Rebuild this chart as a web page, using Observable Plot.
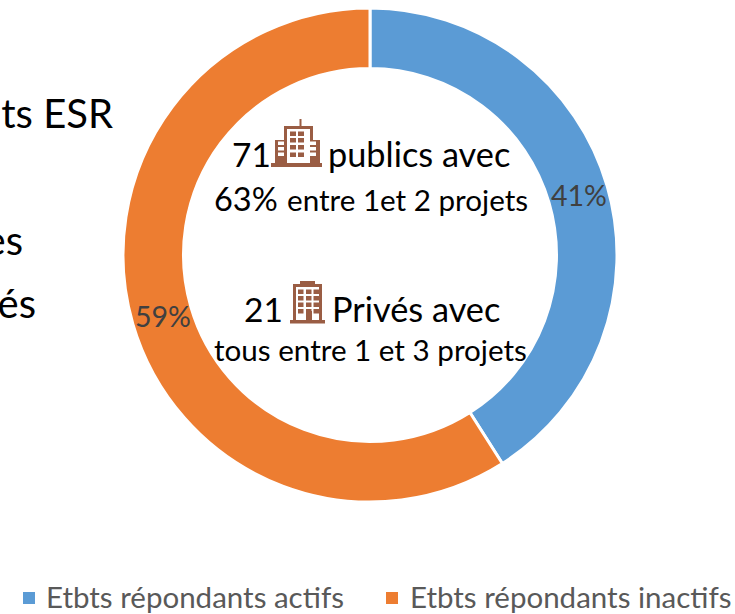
<!DOCTYPE html>
<html lang="fr">
<head>
<meta charset="utf-8">
<script src="https://cdn.jsdelivr.net/npm/d3@7"></script>
<script src="https://cdn.jsdelivr.net/npm/@observablehq/plot@0.6"></script>
<style>
html,body{margin:0;padding:0;background:#fff;overflow:hidden}
svg{display:block}
#legend{position:relative;height:42px;font:29.5px Lato,sans-serif;color:#595959}
#legend span{position:absolute;white-space:nowrap;top:5px;line-height:40px}
#legend i{position:absolute;top:20px;width:12px;height:12px}
</style>
</head>
<body>
<div id="chart"></div>
<div id="legend"></div>
<script>
const categories = ["Etbts répondants actifs", "Etbts répondants inactifs"];
const shares = [41, 59];
const colors = ["#5B9BD5", "#ED7D31"];
const shareLabels = ["41%", "59%"];
const cx = 370, cy = 255, outerR = 247, innerR = 186.5;

const rows = categories.map((name, i) => ({name, share: shares[i]}));

// Ring: Plot stacks the shares and its x scale turns them into angles.
function ring(index, scales, values, dimensions, context) {
  const arc = d3.arc().innerRadius(innerR).outerRadius(outerR);
  const g = d3.select(context.document.createElementNS("http://www.w3.org/2000/svg", "g"))
    .attr("transform", `translate(${cx},${cy})`);
  for (const i of index) {
    g.append("path")
      .attr("d", arc({startAngle: values.x1[i], endAngle: values.x2[i]}))
      .attr("fill", values.fill[i])
      .attr("stroke", "#fff")
      .attr("stroke-width", 3);
  }
  return g.node();
}

function building(drawing) {
  return (index, scales, values, dimensions, context) => {
    const g = d3.select(context.document.createElementNS("http://www.w3.org/2000/svg", "g"));
    for (const [x, y, w, h, f] of drawing) {
      g.append("rect").attr("x", x).attr("y", y).attr("width", w).attr("height", h).attr("fill", f);
    }
    return g.node();
  };
}
const B = "#9A5D44", W = "#fff";
const windows = (xs, ys, w, h, f) => xs.flatMap(x => ys.map(y => [x, y, w, h, f]));
const publicIcon = [
  [299.5, 119, 2, 8, B],
  [284, 126, 29, 40, B],
  [275, 140, 45, 26, B],
  [271, 163, 51, 4, B],
  [287, 129, 23, 34, W],
  ...windows([290, 298], [131.5, 138, 145, 152.5], 6, 4.5, B),
  ...windows([278, 310], [141.5, 147, 152.5], 6, 3.5, W)
];
const privateIcon = [
  [300, 281, 15, 4, B],
  [293, 284, 29, 37, B],
  [290, 320, 35, 3.5, B],
  [296, 287, 23, 33, W],
  ...windows([298, 306, 313.5], [289.5, 296, 302.5, 309], 5.5, 4.5, B),
  [306, 311, 6, 10, B]
];

const labels = [
  {t: "ts ESR", x: 113, y: 128, s: 40, a: "end", c: "#000"},
  {t: "es", x: 23, y: 255, s: 40, a: "end", c: "#000"},
  {t: "és", x: 36, y: 318, s: 40, a: "end", c: "#000"},
  {t: "71", x: 232, y: 167, s: 33.5, a: "start", c: "#000"},
  {t: "publics avec", x: 328, y: 167, s: 34.3, a: "start", c: "#000"},
  {t: "63%", x: 214, y: 211, s: 32.5, a: "start", c: "#000"},
  {t: "entre 1et 2 projets", x: 287, y: 211, s: 29.6, a: "start", c: "#000"},
  {t: "21", x: 244, y: 322, s: 33.5, a: "start", c: "#000"},
  {t: "Privés avec", x: 332, y: 322, s: 34.3, a: "start", c: "#000"},
  {t: "tous entre 1 et 3 projets", x: 214, y: 361, s: 29.6, a: "start", c: "#000"},
  {t: shareLabels[0], x: 551, y: 206, s: 28.5, a: "start", c: "#404040"},
  {t: shareLabels[1], x: 135, y: 327, s: 28.5, a: "start", c: "#404040"}
];

const chart = Plot.plot({
  width: 735, height: 572,
  margin: 0,
  x: {domain: [0, 100], range: [0, 2 * Math.PI], axis: null},
  y: {domain: [0, 572], range: [0, 572], axis: null},
  color: {domain: categories, range: colors},
  marks: [
    Plot.barX(rows, Plot.stackX({x: "share", fill: "name", order: null, render: ring})),
    building(publicIcon),
    building(privateIcon),
    ...labels.map(d => () => {
      const n = document.createElementNS("http://www.w3.org/2000/svg", "text");
      n.setAttribute("x", d.x); n.setAttribute("y", d.y);
      n.setAttribute("text-anchor", d.a);
      n.setAttribute("font-size", d.s);
      n.setAttribute("font-family", "Lato, sans-serif");
      n.setAttribute("fill", d.c);
      n.textContent = d.t;
      return n;
    })
  ]
});
document.getElementById("chart").append(chart);

const legend = d3.select("#legend");
[[23, 46], [386, 410]].forEach(([sx, tx], i) => {
  legend.append("i").style("left", sx + "px").style("background", colors[i]);
  legend.append("span").style("left", tx + "px").text(categories[i]);
});
</script>
</body>
</html>
